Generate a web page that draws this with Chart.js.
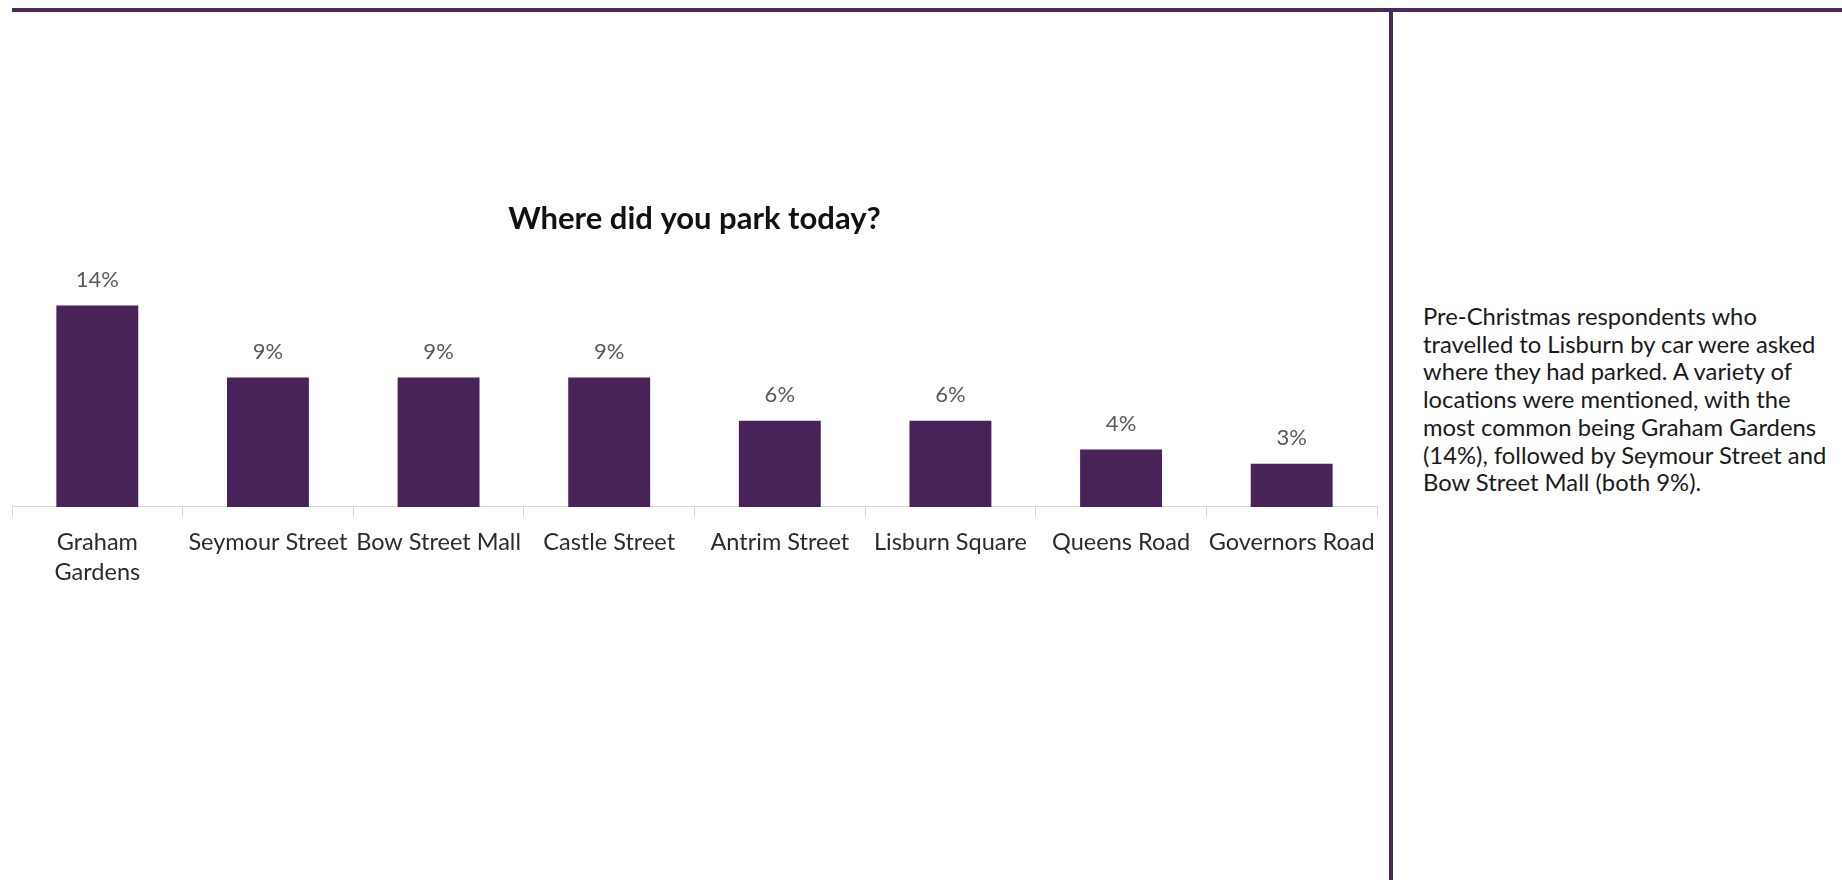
<!DOCTYPE html>
<html>
<head>
<meta charset="utf-8">
<title>Where did you park today?</title>
<script src="https://cdn.jsdelivr.net/npm/chart.js@4/dist/chart.umd.min.js"></script>
<style>
  html, body { margin: 0; padding: 0; background: #fff; }
  body { width: 1842px; height: 880px; position: relative; overflow: hidden; font-family: Lato, sans-serif; }
  #chartWrap { position: absolute; left: 0; top: 0; width: 1390px; height: 880px; }
  .rule-top { position: absolute; left: 12px; top: 8px; width: 1830px; height: 4px; background: #4a2a5e; }
  .rule-side { position: absolute; left: 1389px; top: 10px; width: 4px; height: 870px; background: #4a2a5e; }
  #summary {
    position: absolute; left: 1423px; top: 303px;
    font-size: 23.8px; line-height: 27.7px; color: #1a1a1a; white-space: nowrap;
  }
</style>
</head>
<body>
<div id="chartWrap"><canvas id="parkChart"></canvas></div>
<div class="rule-top"></div>
<div class="rule-side"></div>
<div id="summary">
  Pre-Christmas respondents who<br>
  travelled to Lisburn by car were asked<br>
  where they had parked. A variety of<br>
  locations were mentioned, with the<br>
  most common being Graham Gardens<br>
  (14%), followed by Seymour Street and<br>
  Bow Street Mall (both 9%).
</div>
<script>
// parking locations and share of car travellers (%)
const locations = [
  ['Graham', 'Gardens'],
  'Seymour Street',
  'Bow Street Mall',
  'Castle Street',
  'Antrim Street',
  'Lisburn Square',
  'Queens Road',
  'Governors Road'
];
const shares = [14, 9, 9, 9, 6, 6, 4, 3];

document.addEventListener('DOMContentLoaded', function() {
  const ctx = document.getElementById('parkChart').getContext('2d');

  // value labels above each bar
  const valueLabels = {
    id: 'valueLabels',
    afterDatasetsDraw(chart) {
      const c = chart.ctx;
      const meta = chart.getDatasetMeta(0);
      c.save();
      c.font = '22px Lato, sans-serif';
      c.fillStyle = '#595959';
      c.textAlign = 'center';
      c.textBaseline = 'middle';
      meta.data.forEach(function(bar, i) {
        c.fillText(shares[i] + '%', bar.x, bar.y - 26);
      });
      c.restore();
    }
  };

  new Chart(ctx, {
    type: 'bar',
    data: {
      labels: locations,
      datasets: [{
        data: shares,
        backgroundColor: '#48235a',
        borderWidth: 0,
        categoryPercentage: 0.48,
        barPercentage: 1
      }]
    },
    options: {
      responsive: true,
      maintainAspectRatio: false,
      animation: false,
      layout: {
        padding: { left: 12, right: 13, top: 0, bottom: 0 }
      },
      plugins: {
        legend: { display: false },
        tooltip: { enabled: false },
        title: {
          display: true,
          text: 'Where did you park today?',
          color: '#111',
          font: { family: 'Lato, sans-serif', size: 31, weight: 'bold', lineHeight: 1.2 },
          padding: { top: 200, bottom: 36 }
        }
      },
      scales: {
        y: {
          display: false,
          min: 0,
          max: 16.25
        },
        x: {
          grid: {
            drawOnChartArea: false,
            drawTicks: true,
            tickLength: 10,
            color: '#d9d9d9'
          },
          border: { color: '#d9d9d9', width: 1 },
          ticks: {
            color: '#2b2b2b',
            padding: 10,
            autoSkip: false,
            maxRotation: 0,
            minRotation: 0,
            font: { family: 'Lato, sans-serif', size: 23.5, lineHeight: 1.28 }
          },
          afterFit: function(scale) { scale.height = 373; }
        }
      }
    },
    plugins: [valueLabels]
  });
});
</script>
</body>
</html>
